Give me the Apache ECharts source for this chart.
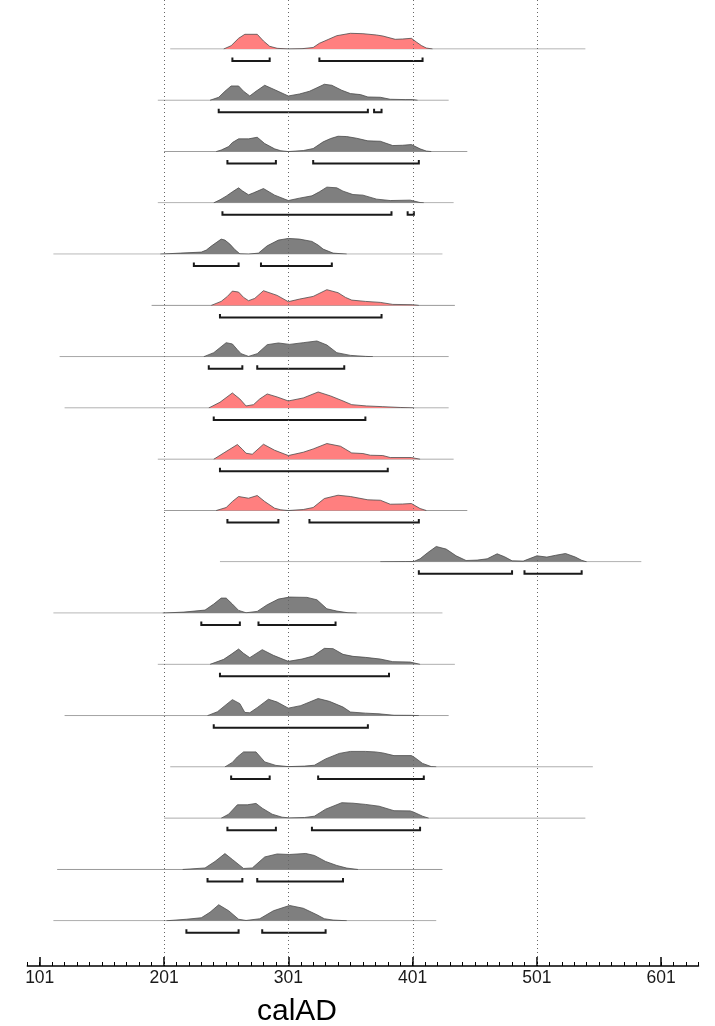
<!DOCTYPE html>
<html>
<head>
<meta charset="utf-8">
<title>calAD</title>
<script src="https://cdn.jsdelivr.net/npm/echarts@6/dist/echarts.min.js"></script>
<style>
  html, body { margin: 0; padding: 0; background: #fff; }
  #chart { width: 715px; height: 1026px; }
</style>
</head>
<body>
<div id="chart"></div>
<script>
// Calendar axis (calAD)
const axisMin = 91;
const axisMax = 631;
const majorTicks = [101, 201, 301, 401, 501, 601];
const gridYears = [201, 301, 401, 501];

// Which distributions are highlighted (top to bottom)
const highlighted = [true, false, false, false, false, true, false, true, true, true,
                     false, false, false, false, false, false, false, false];

// Extent of each row's baseline (calAD)
const spans = [
  [206, 540], [196, 430], [201, 445], [196, 434], [112, 425], [191, 435],
  [117, 430], [121, 430], [196, 434], [201, 445], [246, 585], [112, 425],
  [196, 435], [121, 430], [206, 546], [201, 540], [115, 425], [112, 420]
];

// Relative probability density of each row, [calAD, density]
const densities = [
  [[249,0],[255,3.3],[261,10.7],[266,14.7],[276,14.7],[281,8],[286,2.7],[292,0.7],[301,0],[312,0.3],[321,1.5],[326,5.7],[333,9.5],[340,13.3],[351,15.7],[361,15.3],[372,14],[377,13],[387,9.7],[393,10],[400,10.7],[404,7],[408,3.5],[412,1],[417,0]],
  [[238,0],[245,3],[250,9],[255,14.3],[261,14.3],[265,9],[270,4.3],[275,9],[282,15],[291,10],[301,4.3],[310,6.3],[318,9],[324,12.5],[330,16],[336,15],[344,10],[351,6.7],[359,5.7],[365,3.3],[375,3],[383,1],[395,0.7],[401,0.7],[405,0]],
  [[243,0],[247,1.5],[253,5],[256,9],[261,12.7],[269,12.7],[276,14.3],[282,8],[290,2.7],[295,0.8],[301,0],[313,1],[321,3],[329,9.7],[335,13],[341,15.3],[348,15],[356,13.3],[365,10.7],[375,10.3],[385,6],[393,6.3],[400,7],[407,2.7],[412,0.5],[416,0]],
  [[241,0],[246,3],[251,6.7],[256,11],[261,15],[264,12],[269,8],[273,10],[281,14.3],[290,7.7],[301,2.3],[310,4.7],[320,7],[326,11],[332,15.7],[340,15],[345,11.7],[353,8.3],[361,7.7],[372,3.7],[383,2.3],[399,2.7],[403,1.5],[407,0.3],[410,0]],
  [[198,0],[214,1],[231,2],[235,4],[239,8],[247,15],[250,14],[254,10],[258,4.5],[262,0.3],[269,0],[277,1],[284,8.3],[293,14],[301,15.7],[310,15],[320,12.7],[325,9],[329,5],[337,1],[348,0]],
  [[239,0],[247,4],[252,9],[256,14.3],[261,13.3],[265,8],[269,4.7],[274,7],[281,14.7],[292,10],[301,3.7],[310,6.3],[321,9],[332,15.7],[341,12.7],[347,8],[352,5.3],[363,4],[375,3],[385,1],[401,0.7],[406,0]],
  [[233,0],[241,4],[246,9],[251,14],[256,12.7],[260,7],[263,3],[269,0.3],[276,3],[284,12],[293,13.7],[302,12.3],[313,14],[324,15.7],[332,11.7],[340,4],[351,1.3],[363,0.3],[369,0]],
  [[237,0],[246,5.7],[256,15],[262,9],[267,2],[273,3.3],[278,9],[284,14],[292,11],[301,7],[313,10],[325,16],[335,12],[345,7],[352,3.3],[364,2],[377,1.3],[391,0.5],[402,0]],
  [[241,0],[250,7],[260,14.7],[264,10],[267,6],[272,5],[281,15],[290,9],[301,3.7],[313,7],[321,10.3],[332,15.7],[343,13],[352,6.3],[361,5.7],[367,4],[377,3.7],[383,1.7],[400,1.7],[407,0]],
  [[243,0],[251,3],[256,9],[261,14],[269,12.3],[276,15],[282,9],[290,2.3],[295,0.7],[301,0],[313,1],[321,3],[330,12],[341,15.3],[351,14],[365,10.7],[375,10.3],[383,6.3],[393,6.5],[400,7],[407,2],[412,0]],
  [[375,0],[395,0.2],[402,0.3],[407,3],[413,9],[420,15.3],[428,12.7],[436,6],[444,1.3],[453,1.7],[461,3],[469,8],[475,5],[481,1],[490,0.7],[501,6],[509,4.7],[516,6.5],[524,8.3],[532,4.7],[537,1.5],[541,0]],
  [[200,0],[217,1],[234,3],[241,9],[247,15],[251,15],[256,9],[261,2.7],[267,0.3],[276,1.7],[284,8.3],[293,14],[302,16],[316,15.7],[324,13.3],[332,4.3],[340,2],[349,0.3],[356,0]],
  [[238,0],[249,5],[255,10],[261,15.3],[265,11],[270,6.7],[280,14.7],[289,9],[301,3],[312,5.3],[321,8.3],[330,16],[337,15.7],[345,10],[353,8],[363,7],[375,5.3],[385,2.7],[399,2.3],[407,0]],
  [[236,0],[244,3.9],[250,10],[256,16],[262,12],[266,3.2],[270,2.9],[276,8],[285,16.4],[292,13.6],[301,7.5],[311,10],[325,17.1],[334,14.3],[345,8.6],[351,3.6],[363,2.5],[374,1.8],[386,0.4],[400,0.3],[406,0]],
  [[250,0],[256,4.5],[260,10],[265,15],[275,15],[282,5],[291,1.5],[301,0.3],[314,0.8],[322,1.7],[331,8],[342,13.5],[351,15.5],[363,15.5],[371,15],[377,14],[386,11.3],[400,11.3],[402,10],[409,3.5],[416,0.3],[420,0]],
  [[247,0],[253,4],[260,13.4],[268,13.4],[275,14.8],[280,10],[288,4],[296,1],[302,0.3],[314,0.7],[322,2],[331,9],[344,15.5],[353,15],[363,13.8],[374,12],[386,7.5],[399,7.3],[402,6],[409,2],[414,0]],
  [[216,0],[234,1.5],[242,8],[250,15.9],[256,10],[265,1],[272,1.5],[282,12.5],[292,15.5],[302,15],[315,16],[322,14],[331,8],[340,4],[348,1.4],[357,0]],
  [[203,0],[219,1.5],[231,3],[238,8.5],[245,16],[253,10],[261,1.5],[267,0.3],[278,2],[289,10],[302,15.3],[313,12.5],[324,6],[330,2],[337,0.7],[348,0]]
];

// Highest posterior density ranges of each row, [from, to] in calAD
const ranges = [
  [[256, 286], [326, 409]],
  [[245, 365], [370, 376]],
  [[252, 291], [321, 406]],
  [[248, 384], [397, 402]],
  [[225, 261], [279, 336]],
  [[246, 376]],
  [[237, 264], [276, 346]],
  [[241, 363]],
  [[246, 381]],
  [[252, 293], [318, 406]],
  [[406, 481], [491, 537]],
  [[231, 262], [277, 339]],
  [[246, 382]],
  [[241, 365]],
  [[255, 286], [325, 410]],
  [[252, 291], [320, 407]],
  [[236, 264], [276, 345]],
  [[219, 261], [280, 331]]
];

// ---- layout ----
const PLOT_LEFT = 27.3;
const PLOT_WIDTH = 671.2;
const AXIS_Y = 966;
const FIRST_BASE = 49;
const ROW_GAP = 51.28;
const ROW_H = 20;          // pixel height of a row's density band
const BRACKET_DROP = 12;   // bracket distance below the baseline
const BRACKET_TICK = 3.5;  // bracket end tick height

const minorTicks = [];
for (let v = axisMin; v <= axisMax; v += 10) minorTicks.push(v);

const RED = '#ff7f7f';
const GRAY = '#7f7f7f';
const FONT = '"Liberation Sans", Arial, sans-serif';

const grids = [{ left: PLOT_LEFT, width: PLOT_WIDTH, top: 0, height: AXIS_Y }];
const xAxes = [
  {
    gridIndex: 0, type: 'value', min: axisMin, max: axisMax, position: 'bottom',
    axisLine: { lineStyle: { color: '#000', width: 1.5 } },
    axisTick: { inside: true, length: 9, customValues: majorTicks, lineStyle: { color: '#000', width: 1.5 } },
    axisLabel: { customValues: majorTicks, color: '#1a1a1a', fontSize: 17.5, margin: 3, fontFamily: FONT },
    splitLine: { show: false }
  },
  {
    gridIndex: 0, type: 'value', min: axisMin, max: axisMax, position: 'bottom', offset: 0,
    axisLine: { show: false },
    axisTick: { inside: true, length: 4, customValues: minorTicks, lineStyle: { color: '#000', width: 1 } },
    axisLabel: { show: false },
    splitLine: { show: false }
  }
];
const yAxes = [{ gridIndex: 0, type: 'value', min: 0, max: 1, show: false }];
const series = [];

// dotted vertical grid lines
series.push({
  type: 'custom', xAxisIndex: 0, yAxisIndex: 0, z: 10, silent: true,
  data: gridYears.map(v => [v, 0]),
  renderItem: (params, api) => {
    const top = api.coord([api.value(0), 1]);
    const bot = api.coord([api.value(0), 0]);
    return {
      type: 'line',
      shape: { x1: Math.round(top[0]) + 0.5, y1: top[1], x2: Math.round(bot[0]) + 0.5, y2: bot[1] },
      style: { stroke: '#666', lineWidth: 1, lineDash: [1, 3] }
    };
  }
});

spans.forEach((span, i) => {
  const base = FIRST_BASE + ROW_GAP * i;
  const gi = i + 1;
  grids.push({ left: PLOT_LEFT, width: PLOT_WIDTH, top: base - ROW_H, height: ROW_H });
  xAxes.push({ gridIndex: gi, type: 'value', min: axisMin, max: axisMax, show: false });
  yAxes.push({ gridIndex: gi, type: 'value', min: 0, max: ROW_H, show: false });

  // baseline
  series.push({
    type: 'line', xAxisIndex: gi + 1, yAxisIndex: gi, z: 1, silent: true,
    symbol: 'none', data: [[span[0], 0], [span[1], 0]],
    lineStyle: { color: '#9a9a9a', width: 1 }
  });
  // density
  series.push({
    type: 'line', xAxisIndex: gi + 1, yAxisIndex: gi, z: 2, silent: true,
    symbol: 'none', data: densities[i],
    lineStyle: { color: '#4d4d4d', width: 0.8 },
    areaStyle: { color: highlighted[i] ? RED : GRAY, opacity: 1 }
  });
  // range brackets
  series.push({
    type: 'custom', xAxisIndex: gi + 1, yAxisIndex: gi, z: 3, silent: true,
    data: ranges[i],
    encode: { x: [0, 1] },
    renderItem: (params, api) => {
      const a = api.coord([api.value(0), 0]);
      const b = api.coord([api.value(1), 0]);
      const y = a[1] + BRACKET_DROP;
      return {
        type: 'polyline',
        shape: { points: [[a[0], y - BRACKET_TICK], [a[0], y], [b[0], y], [b[0], y - BRACKET_TICK]] },
        style: { stroke: '#1a1a1a', lineWidth: 2, fill: null }
      };
    }
  });
});

const chart = echarts.init(document.getElementById('chart'), null, { renderer: 'canvas' });
chart.setOption({
  animation: false,
  backgroundColor: '#fff',
  grid: grids,
  xAxis: xAxes,
  yAxis: yAxes,
  series: series,
  graphic: [{
    type: 'text', x: 297, y: 1012, silent: true,
    style: {
      text: 'calAD', fill: '#000',
      font: '30px ' + FONT,
      align: 'center', verticalAlign: 'middle'
    }
  }]
});
</script>
</body>
</html>
